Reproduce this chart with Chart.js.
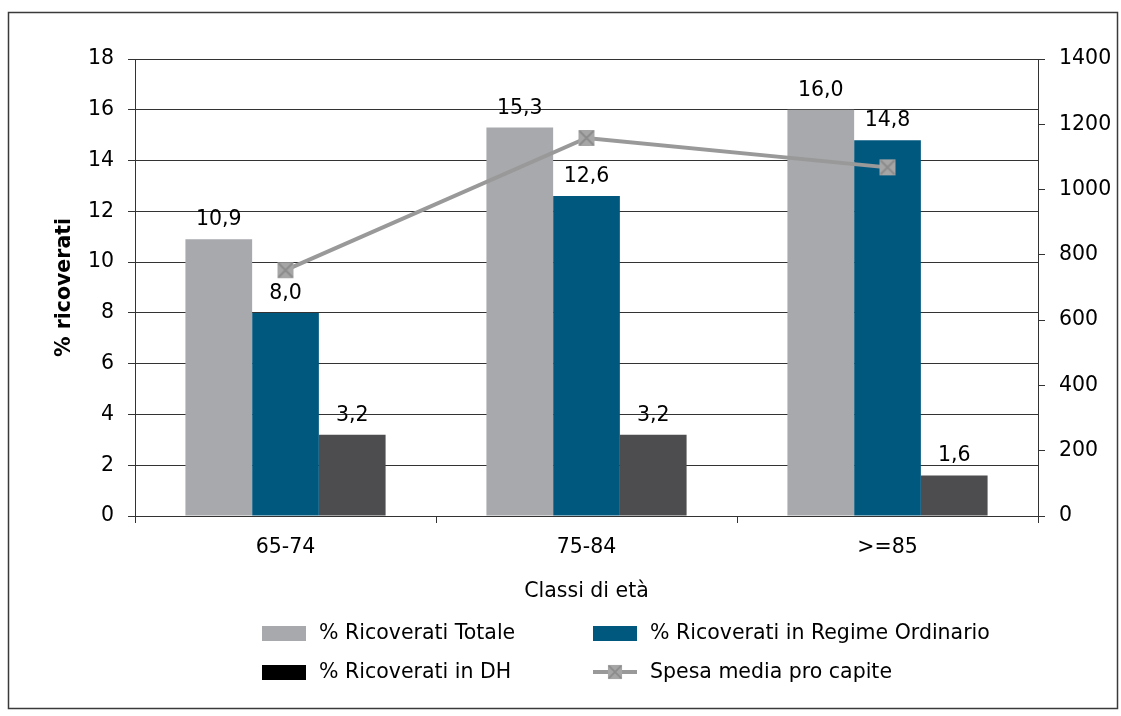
<!DOCTYPE html>
<html>
<head>
<meta charset="utf-8">
<script src="https://cdn.jsdelivr.net/npm/chart.js@4.4.0/dist/chart.umd.min.js"></script>
<style>
  html, body { margin: 0; padding: 0; background: #fff; }
  #wrap { width: 1121px; height: 716px; }
</style>
</head>
<body>
<div id="wrap"><canvas id="ricoveri"></canvas></div>
<script>
const classiEta = ['65-74', '75-84', '>=85'];
const ricoveratiTotale = [10.9, 15.3, 16.0];
const ricoveratiOrdinario = [8.0, 12.6, 14.8];
const ricoveratiDH = [3.2, 3.2, 1.6];
const spesaProCapite = [753, 1158, 1068];
const ticksPercent = [0, 2, 4, 6, 8, 10, 12, 14, 16, 18];
const ticksSpesa = [0, 200, 400, 600, 800, 1000, 1200, 1400];

const FONT = '"DejaVu Sans", sans-serif';
const FSIZE = 20.5;
Chart.defaults.font.family = FONT;
Chart.defaults.color = '#000';

// marker for the spending line: grey square with a cross on top
function makeMarker(size) {
    const c = document.createElement('canvas');
    c.width = size; c.height = size;
    const g = c.getContext('2d');
    g.fillStyle = '#a6a6a6';
    g.fillRect(1, 1, size - 2, size - 2);
    g.strokeStyle = '#8c8c8c';
    g.lineWidth = 2;
    g.beginPath();
    g.moveTo(2, 2); g.lineTo(size - 2, size - 2);
    g.moveTo(size - 2, 2); g.lineTo(2, size - 2);
    g.stroke();
    return c;
}
const marker = makeMarker(18);

// values above each bar, with comma decimals
const barValues = {
    id: 'barValues',
    afterDatasetsDraw(chart) {
        const ctx = chart.ctx;
        ctx.save();
        ctx.font = FSIZE + 'px ' + FONT;
        ctx.fillStyle = '#000';
        ctx.textAlign = 'center';
        ctx.textBaseline = 'bottom';
        chart.data.datasets.forEach((ds, i) => {
            if (ds.type === 'line') return;
            chart.getDatasetMeta(i).data.forEach((bar, j) => {
                const txt = ds.data[j].toFixed(1).replace('.', ',');
                ctx.fillText(txt, bar.x, bar.y - 9);
            });
        });
        ctx.restore();
    }
};

// outer frame and two-column legend
const frameLegend = {
    id: 'frameLegend',
    afterDraw(chart) {
        const ctx = chart.ctx;
        ctx.save();
        ctx.strokeStyle = '#3a3a3a';
        ctx.lineWidth = 1.5;
        ctx.strokeRect(8.5, 12.5, 1109, 696);

        const items = [
            { label: '% Ricoverati Totale', color: '#a7a9ac', x: 262, y: 633 },
            { label: '% Ricoverati in Regime Ordinario', color: '#00587f', x: 593, y: 633 },
            { label: '% Ricoverati in DH', color: '#000000', x: 262, y: 672 },
            { label: 'Spesa media pro capite', line: true, x: 593, y: 672 }
        ];
        ctx.font = FSIZE + 'px ' + FONT;
        ctx.textBaseline = 'middle';
        ctx.textAlign = 'left';
        items.forEach(it => {
            if (it.line) {
                ctx.strokeStyle = '#999';
                ctx.lineWidth = 4;
                ctx.beginPath();
                ctx.moveTo(it.x, it.y);
                ctx.lineTo(it.x + 44, it.y);
                ctx.stroke();
                ctx.drawImage(marker, it.x + 22 - 8, it.y - 8, 16, 16);
            } else {
                ctx.fillStyle = it.color;
                ctx.fillRect(it.x, it.y - 7, 44, 15);
            }
            ctx.fillStyle = '#000';
            ctx.fillText(it.label, it.x + 57, it.y + 1);
        });
        ctx.restore();
    }
};

new Chart(document.getElementById('ricoveri'), {
    type: 'bar',
    data: {
        labels: classiEta,
        datasets: [
            {
                type: 'line',
                label: 'Spesa media pro capite',
                data: spesaProCapite,
                yAxisID: 'y2',
                borderColor: '#999999',
                borderWidth: 4,
                pointStyle: marker,
                pointRadius: 9,
                pointHoverRadius: 9,
                tension: 0,
                order: 0
            },
            {
                label: '% Ricoverati Totale',
                data: ricoveratiTotale,
                backgroundColor: '#a7a9ac',
                order: 1
            },
            {
                label: '% Ricoverati in Regime Ordinario',
                data: ricoveratiOrdinario,
                backgroundColor: '#00587f',
                order: 1
            },
            {
                label: '% Ricoverati in DH',
                data: ricoveratiDH,
                backgroundColor: '#4d4d4f',
                order: 1
            }
        ]
    },
    options: {
        responsive: true,
        maintainAspectRatio: false,
        animation: false,
        events: [],
        layout: { padding: { left: 48, right: 0, top: 59, bottom: 110 } },
        datasets: {
            bar: { categoryPercentage: 0.665, barPercentage: 1 }
        },
        plugins: {
            legend: { display: false },
            tooltip: { enabled: false }
        },
        scales: {
            x: {
                grid: { display: true, drawOnChartArea: false, offset: true, tickLength: 7, color: '#333' },
                border: { color: '#333', width: 1 },
                ticks: { font: { size: FSIZE }, padding: 12 },
                title: { display: true, text: 'Classi di età', font: { size: FSIZE }, padding: { top: 0, bottom: 2 } },
                afterFit(s) { s.height = 90; }
            },
            y: {
                position: 'left',
                min: 0,
                max: 18,
                afterBuildTicks(s) { s.ticks = ticksPercent.map(v => ({ value: v })); },
                grid: { color: '#333', tickLength: 7 },
                border: { color: '#333' },
                ticks: { font: { size: FSIZE }, padding: 14 },
                title: { display: true, text: '% ricoverati', font: { size: FSIZE, weight: 'bold' }, padding: { bottom: 10 } },
                afterFit(s) { s.width = 87; }
            },
            y2: {
                position: 'right',
                min: 0,
                max: 1400,
                afterBuildTicks(s) { s.ticks = ticksSpesa.map(v => ({ value: v })); },
                grid: { drawOnChartArea: false, color: '#333', tickLength: 7 },
                border: { color: '#333' },
                ticks: { font: { size: FSIZE }, padding: 14, callback: v => String(v) },
                afterFit(s) { s.width = 83; }
            }
        }
    },
    plugins: [barValues, frameLegend]
});
</script>
</body>
</html>
